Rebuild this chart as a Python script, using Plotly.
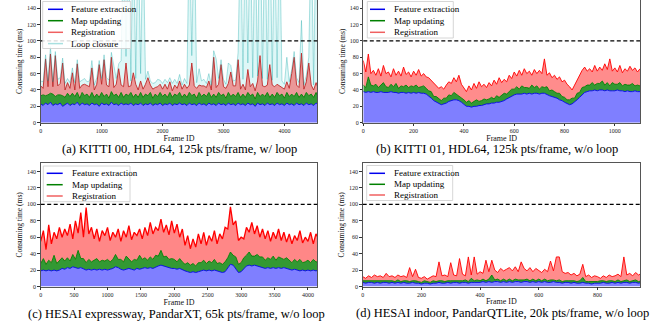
import plotly.graph_objects as go

W, H = 659, 323
FONT = "Liberation Serif"

SERIES = ["Feature extraction", "Map updating", "Registration", "Loop closure"]

# ---------------- (a) KITTI 00 (frame step 40) ----------------
step_a = 40
fe_a = [23, 21, 24, 22, 25, 21, 23, 22, 24, 20,
        22, 24, 21, 23, 22, 25, 21, 24, 22, 23,
        21, 24, 22, 23, 20, 24, 22, 23, 21, 25,
        22, 23, 21, 24, 22, 23, 22, 24, 21, 23,
        22, 24, 21, 23, 22, 24, 21, 23, 22, 24,
        21, 23, 22, 24, 21, 23, 22, 24, 22, 23,
        21, 24, 22, 23, 21, 24, 22, 23, 21, 24,
        22, 23, 21, 24, 22, 23, 21, 24, 22, 23,
        21, 24, 22, 23, 21, 24, 22, 23, 20, 24,
        22, 23, 21, 24, 22, 23, 21, 24, 22, 23,
        21, 24, 22, 23, 21, 24, 22, 23, 21, 24,
        22, 23, 21, 24, 22]
mu_a = [10, 13, 9, 12, 11, 14, 9, 12, 10, 13,
        9, 12, 11, 13, 10, 12, 9, 13, 11, 12,
        10, 13, 9, 12, 11, 13, 10, 12, 9, 13,
        11, 12, 10, 13, 9, 12, 11, 13, 10, 12,
        9, 13, 10, 12, 11, 13, 9, 12, 10, 13,
        11, 12, 9, 13, 10, 12, 11, 13, 9, 12,
        10, 13, 11, 12, 9, 13, 10, 12, 11, 13,
        9, 12, 10, 13, 11, 12, 9, 13, 10, 12,
        11, 13, 9, 12, 10, 13, 11, 12, 9, 13,
        10, 12, 11, 13, 9, 12, 10, 13, 11, 12,
        9, 13, 10, 12, 11, 13, 9, 12, 10, 13,
        11, 12, 10, 13, 9]
reg_a = [12, 8, 45, 10, 48, 9, 50, 11, 14, 40,
         9, 13, 10, 25, 8, 35, 12, 9, 14, 10,
         13, 30, 9, 12, 40, 10, 45, 11, 14, 42,
         10, 12, 35, 9, 13, 38, 11, 8, 30, 12,
         9, 14, 10, 12, 22, 9, 11, 8, 12, 10,
         9, 12, 10, 13, 8, 11, 9, 14, 10, 12,
         11, 9, 40, 10, 12, 9, 13, 10, 11, 14,
         9, 45, 12, 10, 38, 9, 12, 11, 30, 10,
         13, 40, 10, 12, 9, 28, 11, 13, 10, 14,
         50, 10, 12, 9, 40, 11, 13, 10, 12, 9,
         11, 13, 10, 25, 48, 9, 12, 50, 10, 13,
         40, 11, 9, 12, 10]
lc_a = [6, 8, 5, 7, 9, 6, 5, 8, 7, 6,
        8, 5, 7, 6, 9, 5, 8, 6, 7, 5,
        7, 9, 6, 8, 5, 7, 6, 9, 8, 6,
        25, 7, 6, 30, 200, 8, 200, 6, 200, 7,
        200, 9, 200, 6, 8, 5, 7, 6, 9, 5,
        7, 6, 8, 5, 9, 7, 6, 8, 5, 7,
        6, 200, 9, 200, 7, 20, 6, 8, 5, 9,
        6, 8, 35, 7, 6, 9, 5, 25, 8, 6,
        7, 9, 200, 6, 200, 8, 200, 7, 200, 6,
        200, 9, 200, 7, 200, 6, 200, 8, 200, 7,
        6, 30, 8, 5, 7, 9, 6, 40, 5, 8,
        7, 200, 6, 200, 8]

# ---------------- (b) KITTI 01 (frame step 10) ----------------
step_b = 10
fe_b = [38, 37, 38, 37, 38, 37, 37, 38, 37, 37,
        37, 38, 37, 37, 36, 37, 37, 36, 37, 36,
        37, 36, 37, 36, 36, 35, 33, 30, 27, 25,
        23, 22, 23, 24, 26, 27, 28, 28, 27, 25,
        22, 20, 20, 19, 20, 20, 21, 21, 22, 23,
        23, 24, 24, 25, 25, 26, 27, 29, 31, 33,
        34, 35, 35, 35, 36, 35, 36, 35, 36, 36,
        35, 36, 36, 34, 33, 32, 31, 30, 28, 27,
        25, 23, 22, 23, 25, 28, 31, 34, 37, 38,
        39, 39, 40, 39, 40, 40, 39, 40, 39, 39,
        39, 40, 39, 39, 38, 39, 38, 38, 39, 38,
        38]
mu_b = [8, 6, 18, 9, 7, 10, 6, 8, 12, 7,
        6, 9, 7, 11, 6, 8, 7, 10, 6, 9,
        7, 10, 6, 8, 9, 7, 6, 8, 5, 7,
        6, 5, 7, 6, 8, 6, 9, 7, 6, 5,
        6, 5, 7, 5, 6, 8, 5, 6, 7, 5,
        6, 7, 5, 8, 6, 7, 9, 6, 7, 8,
        7, 9, 6, 10, 7, 8, 6, 11, 7, 9,
        6, 8, 7, 10, 6, 8, 7, 6, 8, 5,
        6, 5, 6, 7, 5, 8, 6, 9, 7, 8,
        7, 10, 6, 9, 8, 11, 7, 9, 6, 10,
        8, 7, 10, 6, 9, 7, 8, 10, 6, 8,
        7]
reg_b = [30, 19, 28, 14, 19, 11, 23, 11, 21, 16,
         19, 9, 22, 10, 21, 12, 24, 13, 19, 11,
         19, 12, 22, 13, 15, 14, 16, 14, 16, 14,
         13, 17, 11, 16, 16, 15, 18, 15, 25, 17,
         14, 13, 18, 16, 22, 14, 24, 17, 18, 15,
         20, 14, 23, 14, 24, 16, 17, 15, 20, 13,
         21, 13, 23, 13, 23, 17, 21, 12, 22, 15,
         23, 16, 35, 14, 22, 15, 20, 17, 20, 18,
         21, 19, 16, 10, 16, 16, 21, 21, 24, 17,
         20, 13, 24, 15, 20, 13, 26, 16, 33, 14,
         20, 15, 21, 16, 19, 17, 23, 16, 22, 16,
         21]

# ---------------- (c) HESAI expressway (frame step 40) ----------------
step_c = 40
fe_c = [19, 20, 19, 20, 19, 20, 19, 20, 22, 21,
        23, 22, 24, 23, 22, 23, 21, 20, 21, 20,
        21, 20, 21, 20, 21, 20, 21, 22, 24, 23,
        21, 20, 21, 22, 21, 20, 22, 21, 22, 23,
        22, 23, 22, 24, 25, 26, 25, 24, 23, 22,
        22, 21, 22, 20, 19, 18, 17, 18, 17, 18,
        19, 20, 19, 20, 19, 20, 19, 18, 17, 18,
        22, 27, 26, 22, 17, 18, 21, 25, 26, 25,
        26, 25, 24, 23, 22, 23, 22, 23, 22, 23,
        22, 23, 22, 21, 20, 21, 20, 19, 20, 19,
        20, 19, 20, 19, 20]
mu_c = [9, 14, 8, 12, 10, 18, 9, 11, 13, 10,
        12, 9, 15, 10, 22, 11, 13, 9, 12, 10,
        11, 14, 9, 12, 10, 13, 9, 11, 15, 10,
        12, 10, 16, 11, 9, 13, 10, 17, 11, 12,
        10, 13, 11, 14, 12, 18, 11, 13, 10, 12,
        11, 9, 12, 10, 8, 11, 9, 10, 8, 11,
        10, 12, 9, 11, 10, 13, 9, 11, 10, 12,
        13, 15, 12, 14, 10, 11, 14, 13, 16, 12,
        11, 14, 12, 13, 10, 12, 11, 14, 10, 13,
        12, 10, 13, 11, 9, 12, 10, 14, 9, 11,
        12, 10, 13, 11, 10]
reg_c = [27, 34, 18, 43, 23, 28, 30, 41, 25, 39,
         27, 45, 19, 47, 21, 56, 26, 67, 31, 42,
         26, 36, 25, 36, 31, 39, 26, 33, 21, 37,
         22, 38, 23, 41, 27, 33, 30, 32, 25, 37,
         30, 42, 31, 34, 31, 38, 30, 38, 30, 46,
         32, 46, 26, 40, 23, 33, 20, 30, 23, 35,
         23, 34, 22, 31, 26, 35, 24, 35, 31, 42,
         35, 55, 37, 44, 29, 31, 23, 34, 24, 41,
         27, 35, 24, 34, 26, 33, 22, 29, 26, 34,
         22, 33, 19, 32, 23, 29, 26, 35, 24, 30,
         23, 37, 19, 34, 28]

# ---------------- (d) HESAI indoor (frame step 10) ----------------
step_d = 10
fe_d = [5, 4, 5, 5, 4, 5, 4, 5, 5, 4,
        5, 4, 5, 4, 5, 4, 4, 5, 4, 4,
        3, 4, 4, 3, 4, 4, 5, 4, 4, 5,
        4, 5, 5, 4, 5, 5, 4, 5, 5, 5,
        5, 6, 5, 6, 5, 6, 6, 5, 6, 5,
        6, 5, 6, 6, 5, 6, 6, 5, 6, 5,
        6, 5, 6, 5, 5, 6, 5, 5, 4, 5,
        5, 4, 5, 4, 4, 5, 4, 4, 3, 4,
        4, 4, 5, 4, 4, 5, 4, 5, 4, 5,
        5, 4, 5, 5, 4, 5]
mu_d = [2, 3, 2, 2, 3, 2, 3, 2, 2, 3,
        2, 2, 3, 2, 2, 3, 2, 2, 3, 2,
        2, 3, 2, 2, 3, 2, 2, 3, 2, 2,
        3, 2, 2, 3, 2, 3, 2, 5, 2, 3,
        2, 3, 2, 3, 9, 2, 3, 2, 3, 2,
        3, 2, 3, 2, 3, 2, 3, 2, 3, 2,
        3, 2, 3, 2, 3, 2, 2, 3, 2, 2,
        2, 3, 2, 2, 3, 6, 2, 2, 3, 2,
        2, 3, 2, 2, 3, 2, 2, 3, 2, 2,
        3, 2, 2, 3, 2, 2]
reg_d = [5, 3, 6, 4, 7, 5, 6, 4, 9, 5,
         6, 5, 6, 6, 6, 4, 17, 5, 14, 5,
         5, 5, 3, 6, 6, 6, 23, 6, 8, 5,
         22, 7, 6, 27, 8, 5, 30, 4, 29, 7,
         11, 7, 25, 9, 18, 12, 8, 15, 10, 14,
         14, 12, 15, 10, 22, 14, 10, 16, 9, 15,
         11, 10, 12, 11, 23, 11, 29, 28, 12, 9,
         10, 7, 9, 7, 8, 16, 6, 8, 5, 7,
         6, 3, 6, 5, 7, 5, 7, 7, 6, 29,
         6, 10, 6, 9, 8, 9]

captions = ["(a) KITTI 00, HDL64, 125k pts/frame, w/ loop",
            "(b) KITTI 01, HDL64, 125k pts/frame, w/o loop",
            "(c) HESAI expressway, PandarXT, 65k pts/frame, w/o loop",
            "(d) HESAI indoor, PandarQTLite, 20k pts/frame, w/o loop"]
x_max = [4540, 1100, 4140, 945]
x_ticks = [[0, 1000, 2000, 3000, 4000],
           [0, 200, 400, 600, 800, 1000],
           [0, 500, 1000, 1500, 2000, 2500, 3000, 3500, 4000],
           [0, 200, 400, 600, 800]]
y_ticks = [0, 20, 40, 60, 80, 100, 120, 140]
y_max = 150
time_budget = 100

line_colors = ["#0000ee", "#008000", "#ff0000", "rgba(0,160,160,0.45)"]
fill_colors = ["rgba(0,0,255,0.5)", "rgba(0,128,0,0.8)", "rgba(255,0,0,0.45)", "rgba(0,191,191,0.13)"]
legend_colors = ["#0000ee", "#008000", "#f06060", "#a8e0e0"]
reg_line_width = [0.9, 0.9, 1.3, 0.9]
reg_line_color = ["#c02828", "#ff0000", "#ff0000", "#ff0000"]
reg_fill_color = ["rgba(215,50,50,0.5)", "rgba(255,0,0,0.45)", "rgba(255,0,0,0.47)", "rgba(255,0,0,0.45)"]

panels = [
    (step_a, [fe_a, mu_a, reg_a, lc_a]),
    (step_b, [fe_b, mu_b, reg_b]),
    (step_c, [fe_c, mu_c, reg_c]),
    (step_d, [fe_d, mu_d, reg_d]),
]

# layout geometry in pixels: (left, right, top, bottom)
boxes = [(40.7, 317.3, 0.0, 122.7), (363.3, 640.0, 0.0, 122.7),
         (40.7, 317.3, 163.3, 286.5), (362.7, 640.0, 163.3, 286.5)]
caption_pos = [(180, 148.6), (497, 148.6), (176, 313.6), (502, 313.3)]
legend_geo = [  # box (x0,y0,x1,y1), rows y, line x0,x1, text x
    ((42.7, 1.5, 130.7, 48.5), [9.3, 20.7, 32.3, 43.6], (48, 63), 70),
    ((367.3, 1.5, 453.3, 38.0), [9.3, 20.7, 32.3], (370, 385), 392.7),
    ((43.3, 166.0, 130.0, 201.7), [173.3, 184.7, 196.0], (46.7, 62.7), 70.7),
    ((366.7, 165.5, 452.7, 200.5), [173.3, 184.3, 195.0], (369.3, 385), 392.7),
]

fig = go.Figure()
layout = dict(width=W, height=H, margin=dict(l=0, r=0, t=0, b=0, autoexpand=False),
              paper_bgcolor="white", plot_bgcolor="white", showlegend=False,
              hovermode=False, font=dict(family=FONT, color="#111"))

for p, (step, series) in enumerate(panels):
    n = min(len(s) for s in series)
    frames = [i * step for i in range(n)]
    xa = "x" if p == 0 else f"x{p + 1}"
    ya = "y" if p == 0 else f"y{p + 1}"
    for k, vals in enumerate(series):
        fc = fill_colors[k]
        if k == 2:
            lc, lw, fc = reg_line_color[p], reg_line_width[p], reg_fill_color[p]
        elif k == 3:
            lc, lw = line_colors[k], 0.7
        else:
            lc, lw = line_colors[k], 0.9
        fig.add_trace(go.Scatter(
            x=frames, y=vals[:n], name=SERIES[k], mode="lines",
            stackgroup=f"s{p}", line=dict(color=lc, width=lw),
            fillcolor=fc, xaxis=xa, yaxis=ya))
    l, r, t, b = boxes[p]
    top_panel = p < 2
    axkey = "xaxis" if p == 0 else f"xaxis{p + 1}"
    aykey = "yaxis" if p == 0 else f"yaxis{p + 1}"
    layout[axkey] = dict(
        domain=[l / W, r / W], anchor=ya, range=[0, x_max[p]], automargin=False,
        tickvals=x_ticks[p], ticks="outside", ticklen=2.5, tickwidth=0.6,
        tickcolor="#333", tickfont=dict(size=6, family=FONT, color="#222"),
        showline=True, linecolor="#555", linewidth=0.8, mirror=not top_panel,
        showgrid=False, zeroline=False,
        title=dict(text="Frame ID", font=dict(size=8, family=FONT), standoff=1))
    layout[aykey] = dict(
        domain=[1 - b / H, 1 - t / H], anchor=xa, range=[0, y_max], automargin=False,
        tickvals=y_ticks, ticks="outside", ticklen=2.5, tickwidth=0.6,
        tickcolor="#333", tickfont=dict(size=6, family=FONT, color="#222"),
        showline=True, linecolor="#555", linewidth=0.8, mirror=True,
        showgrid=False, zeroline=False,
        title=dict(text="Consuming time (ms)", font=dict(size=7.5, family=FONT), standoff=3))
    # real-time budget line
    fig.add_shape(type="line", xref=f"{xa} domain", yref=ya, x0=0, x1=1,
                  y0=time_budget, y1=time_budget,
                  line=dict(color="black", width=1.2, dash="4px,2.5px"))
    # caption
    cx, cy = caption_pos[p]
    fig.add_annotation(text=captions[p], xref="paper", yref="paper",
                       x=cx / W, y=1 - cy / H, xanchor="center", yanchor="middle",
                       showarrow=False, borderpad=0,
                       font=dict(size=12.5, family=FONT, color="black"))
    # legend
    (bx0, by0, bx1, by1), rows, (lx0, lx1), tx = legend_geo[p]
    fig.add_shape(type="rect", xref="paper", yref="paper",
                  x0=bx0 / W, x1=bx1 / W, y0=1 - by1 / H, y1=1 - by0 / H,
                  fillcolor="rgba(255,255,255,0.85)", line=dict(color="#cccccc", width=0.8))
    for k, ry in enumerate(rows):
        fig.add_shape(type="line", xref="paper", yref="paper",
                      x0=lx0 / W, x1=lx1 / W, y0=1 - ry / H, y1=1 - ry / H,
                      line=dict(color=legend_colors[k], width=1.5))
        fig.add_annotation(text=SERIES[k], xref="paper", yref="paper",
                           x=tx / W, y=1 - ry / H, xanchor="left", yanchor="middle",
                           showarrow=False, borderpad=0,
                           font=dict(size=9, family=FONT, color="black"))

fig.update_layout(**layout)
fig.write_html("out.html", config={"displayModeBar": False},
               post_script="document.body.style.margin='0';document.body.style.overflow='hidden';")
